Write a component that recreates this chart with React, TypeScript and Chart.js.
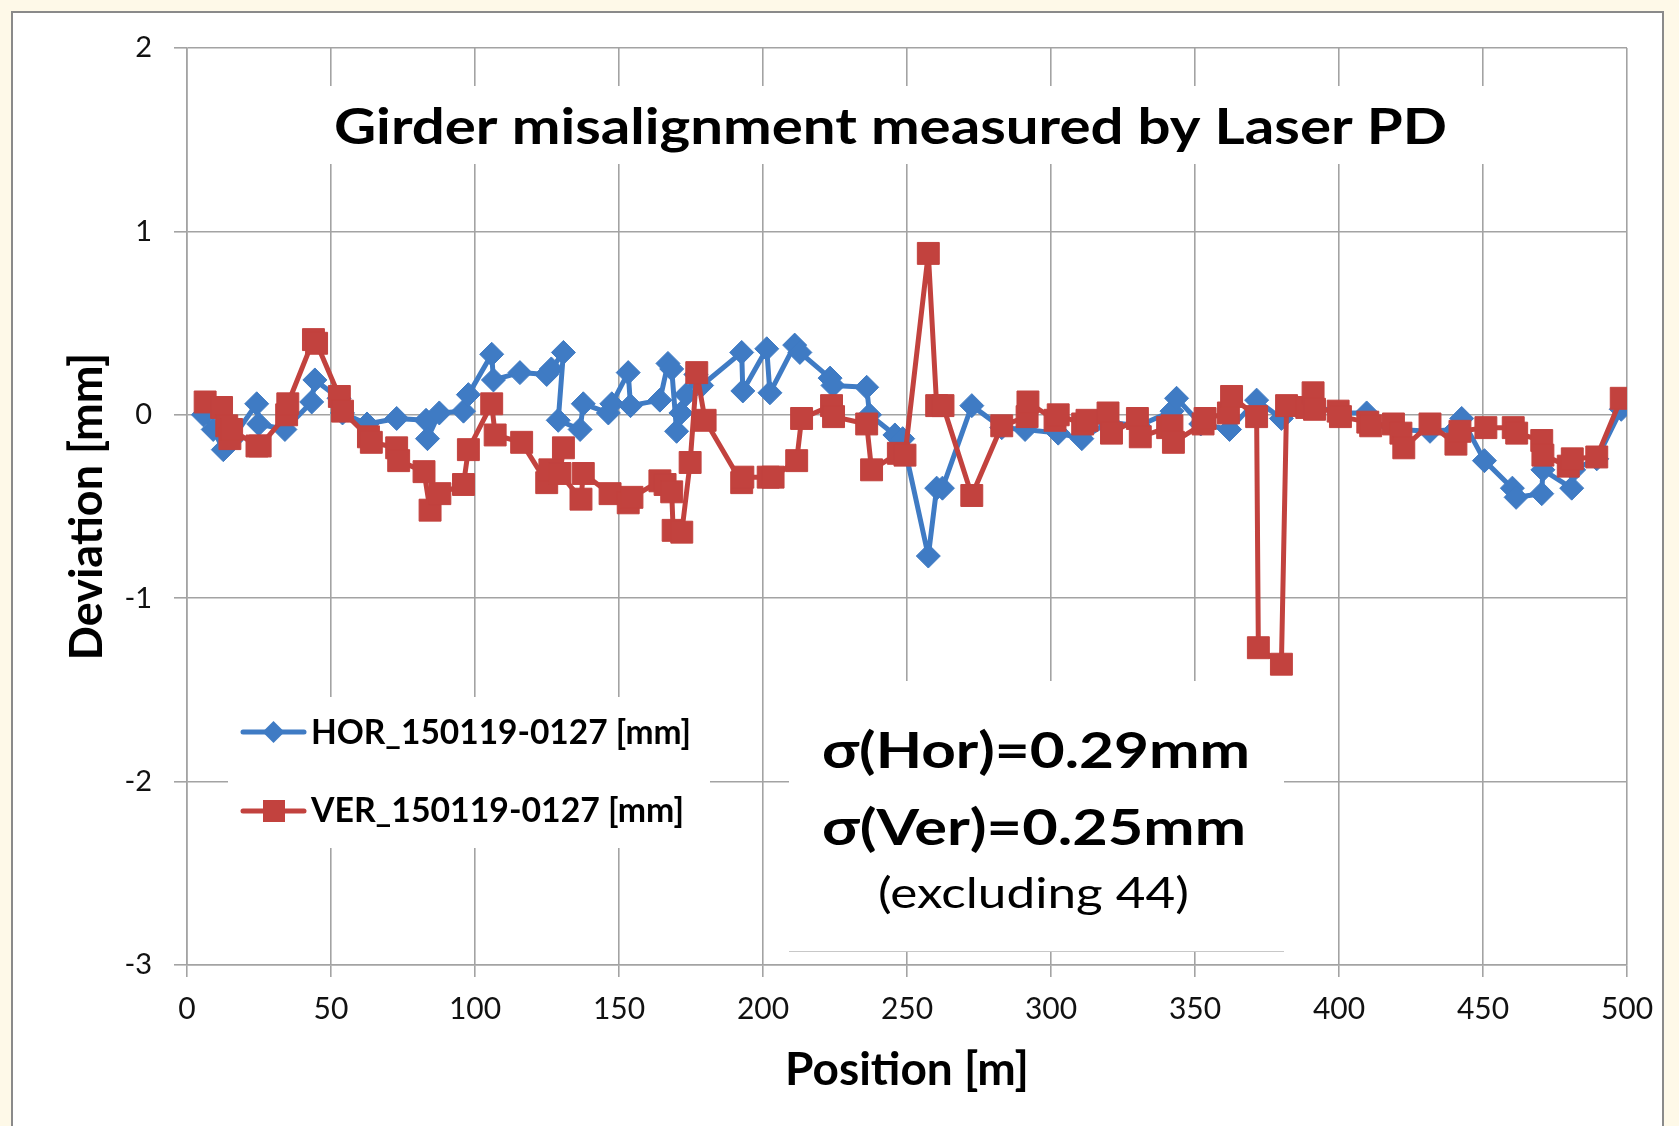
import React, { useEffect, useRef } from "react";
import { Chart, registerables } from "chart.js";

Chart.register(...registerables);

// ---------- data ----------
const HOR_POS = [5.7, 9.1, 12.6, 15.3, 24.2, 24.9, 34.0, 43.3, 44.4, 52.8, 54.0, 62.5, 72.8, 83.0, 83.5, 87.6, 96.0, 97.7, 105.8, 106.4, 115.6, 124.9, 126.5, 130.7, 128.9, 136.5, 137.6, 146.3, 147.5, 153.2, 154.0, 164.2, 167.0, 168.3, 170.0, 171.5, 173.3, 176.7, 178.7, 192.6, 193.0, 201.3, 202.4, 211.0, 212.8, 223.3, 224.3, 236.0, 237.0, 245.8, 248.5, 257.4, 260.3, 262.3, 272.5, 282.9, 291.0, 302.5, 310.7, 320.0, 330.5, 342.0, 343.6, 352.0, 362.0, 371.4, 380.0, 390.8, 400.0, 409.6, 411.0, 420.4, 431.6, 440.5, 442.6, 450.5, 460.2, 461.5, 470.4, 470.8, 480.8, 481.5, 489.5, 498.0];
const HOR_DEV = [0.00, -0.08, -0.19, -0.14, 0.06, -0.05, -0.08, 0.07, 0.19, 0.09, 0.01, -0.05, -0.02, -0.03, -0.13, 0.01, 0.02, 0.11, 0.33, 0.19, 0.23, 0.22, 0.25, 0.34, -0.03, -0.08, 0.06, 0.01, 0.06, 0.23, 0.05, 0.08, 0.28, 0.25, -0.09, 0.01, 0.11, 0.22, 0.16, 0.34, 0.13, 0.36, 0.12, 0.38, 0.34, 0.20, 0.16, 0.15, 0.00, -0.11, -0.13, -0.77, -0.40, -0.40, 0.05, -0.07, -0.08, -0.10, -0.13, -0.04, -0.06, 0.02, 0.09, -0.05, -0.08, 0.08, -0.02, 0.05, 0.01, 0.01, -0.05, -0.08, -0.09, -0.08, -0.02, -0.25, -0.40, -0.45, -0.43, -0.30, -0.40, -0.30, -0.24, 0.03];

const VER_POS = [6.3, 12.0, 13.8, 14.9, 15.5, 24.3, 25.4, 34.6, 35.0, 43.9, 45.0, 52.9, 54.0, 63.0, 64.0, 72.8, 73.5, 82.3, 84.4, 87.8, 96.0, 97.7, 105.8, 107.0, 116.2, 124.9, 126.0, 130.7, 129.5, 136.8, 137.6, 146.9, 153.2, 154.5, 164.2, 166.0, 168.3, 168.8, 171.8, 174.7, 177.0, 179.9, 192.6, 193.0, 201.8, 203.5, 211.7, 213.4, 223.8, 224.5, 236.0, 237.7, 247.0, 249.3, 257.4, 260.3, 262.5, 272.5, 282.9, 291.7, 292.0, 301.4, 302.5, 311.0, 312.5, 319.8, 321.0, 330.0, 331.0, 340.5, 342.0, 342.5, 352.8, 353.5, 361.6, 362.7, 371.4, 372.0, 380.0, 381.8, 388.8, 391.0, 391.5, 399.7, 400.5, 410.0, 411.0, 418.9, 421.5, 422.5, 431.6, 440.6, 442.0, 451.0, 460.5, 461.7, 470.4, 470.8, 479.6, 481.0, 489.5, 498.0];
const VER_DEV = [0.07, 0.04, -0.06, -0.13, -0.08, -0.17, -0.17, 0.00, 0.06, 0.41, 0.39, 0.10, 0.02, -0.12, -0.15, -0.18, -0.25, -0.31, -0.52, -0.43, -0.38, -0.19, 0.06, -0.11, -0.15, -0.37, -0.30, -0.18, -0.32, -0.46, -0.32, -0.43, -0.48, -0.45, -0.36, -0.38, -0.42, -0.63, -0.64, -0.26, 0.23, -0.03, -0.37, -0.34, -0.34, -0.34, -0.25, -0.02, 0.05, -0.01, -0.05, -0.30, -0.21, -0.22, 0.88, 0.05, 0.05, -0.44, -0.06, -0.01, 0.07, -0.03, 0.00, -0.05, -0.03, 0.01, -0.10, -0.02, -0.12, -0.07, -0.06, -0.15, -0.05, -0.02, 0.01, 0.10, -0.01, -1.27, -1.36, 0.05, 0.04, 0.12, 0.03, 0.02, -0.01, -0.04, -0.06, -0.05, -0.10, -0.18, -0.05, -0.16, -0.09, -0.07, -0.07, -0.10, -0.14, -0.22, -0.28, -0.24, -0.23, 0.09];

const X_MIN = 0;
const X_MAX = 500;
const X_STEP = 50;
const Y_MIN = -3;
const Y_MAX = 2;
const Y_STEP = 1;

const TITLE = "Girder misalignment measured by Laser PD";
const X_TITLE = "Position [m]";
const Y_TITLE = "Deviation [mm]";
const HOR_LABEL = "HOR_150119-0127 [mm]";
const VER_LABEL = "VER_150119-0127 [mm]";
const STAT_LINES = ["\u03c3(Hor)=0.29mm", "\u03c3(Ver)=0.25mm", "(excluding 44)"];

// ---------- styles ----------
const W = 1679;
const H = 1126;
const CREAM = "#fef9e8";
const BLUE = "#3f7bc4";
const RED = "#c2423e";
const GRID = "#a3a3a3";
const FONT = "Lato, 'Open Sans', sans-serif";
const CAP = 0.7165;

function fitText(
  ctx: CanvasRenderingContext2D,
  text: string,
  weight: string,
  capH: number,
  left: number,
  right: number,
  baseline: number,
) {
  const size = capH / CAP;
  ctx.save();
  ctx.font = `${weight} ${size}px ${FONT}`;
  ctx.textAlign = "left";
  ctx.textBaseline = "alphabetic";
  ctx.fillStyle = "#000";
  const w = ctx.measureText(text).width;
  const sx = (right - left) / w;
  ctx.translate(left, baseline);
  ctx.scale(sx, 1);
  ctx.fillText(text, 0, 0);
  ctx.restore();
}

const decorPlugin = {
  id: "decor",
  beforeDraw(chart: any) {
    const ctx = chart.ctx as CanvasRenderingContext2D;
    ctx.save();
    ctx.fillStyle = CREAM;
    ctx.fillRect(0, 0, W, H);
    ctx.fillStyle = "#ffffff";
    ctx.fillRect(12, 12, 1651, H);
    ctx.strokeStyle = "#8a8a8a";
    ctx.lineWidth = 2;
    ctx.strokeRect(12, 12, 1651, H + 20);
    ctx.restore();
  },
  beforeDatasetsDraw(chart: any) {
    const ctx = chart.ctx as CanvasRenderingContext2D;
    ctx.save();
    ctx.fillStyle = "#ffffff";
    // title box
    ctx.fillRect(315, 86, 1180, 78);
    // legend box
    ctx.fillRect(228, 697, 482, 151);
    // stats box
    ctx.fillRect(789, 681, 495, 270);
    ctx.strokeStyle = "#c8c8c8";
    ctx.lineWidth = 1;
    ctx.beginPath();
    ctx.moveTo(789, 951.5);
    ctx.lineTo(1284, 951.5);
    ctx.stroke();
    ctx.restore();
  },
  afterDraw(chart: any) {
    const ctx = chart.ctx as CanvasRenderingContext2D;
    // chart title
    fitText(ctx, TITLE, "bold", 36, 334, 1447, 144);

    // legend
    ctx.save();
    ctx.lineCap = "round";
    ctx.lineWidth = 5;
    ctx.strokeStyle = BLUE;
    ctx.beginPath();
    ctx.moveTo(243, 732);
    ctx.lineTo(304, 732);
    ctx.stroke();
    ctx.fillStyle = BLUE;
    ctx.beginPath();
    ctx.moveTo(273.5 - 11, 732);
    ctx.lineTo(273.5, 732 - 11);
    ctx.lineTo(273.5 + 11, 732);
    ctx.lineTo(273.5, 732 + 11);
    ctx.closePath();
    ctx.fill();

    ctx.strokeStyle = RED;
    ctx.beginPath();
    ctx.moveTo(243, 811);
    ctx.lineTo(304, 811);
    ctx.stroke();
    ctx.fillStyle = RED;
    ctx.fillRect(274 - 11, 811 - 11, 22, 22);
    ctx.restore();

    fitText(ctx, HOR_LABEL, "bold", 24, 311, 691, 744);
    fitText(ctx, VER_LABEL, "bold", 24, 311, 684, 822);

    // statistics text
    fitText(ctx, STAT_LINES[0], "bold", 36, 822, 1250, 768);
    fitText(ctx, STAT_LINES[1], "bold", 36, 822, 1246, 845);
    fitText(ctx, STAT_LINES[2], "normal", 30, 878, 1189, 908);
  },
};

export default function App() {
  const ref = useRef<HTMLCanvasElement | null>(null);

  useEffect(() => {
    const canvas = ref.current;
    if (!canvas) return;
    const horData = HOR_POS.map((x, i) => ({ x, y: HOR_DEV[i] }));
    const verData = VER_POS.map((x, i) => ({ x, y: VER_DEV[i] }));

    const chart = new Chart(canvas, {
      type: "scatter",
      data: {
        datasets: [
          {
            label: VER_LABEL,
            data: verData,
            showLine: true,
            borderColor: RED,
            backgroundColor: RED,
            borderWidth: 5,
            borderJoinStyle: "round",
            borderCapStyle: "round",
            pointStyle: "rect",
            pointRadius: 15.5,
            pointBorderWidth: 1,
            pointBorderColor: RED,
            pointBackgroundColor: RED,
            order: 0,
          },
          {
            label: HOR_LABEL,
            data: horData,
            showLine: true,
            borderColor: BLUE,
            backgroundColor: BLUE,
            borderWidth: 5,
            borderJoinStyle: "round",
            borderCapStyle: "round",
            pointStyle: "rectRot",
            pointRadius: 12,
            pointBorderWidth: 1,
            pointBorderColor: BLUE,
            pointBackgroundColor: BLUE,
            order: 1,
          },
        ],
      },
      options: {
        responsive: false,
        maintainAspectRatio: false,
        animation: false,
        devicePixelRatio: 1,
        layout: { padding: { left: 0, top: 48, right: 52, bottom: 0 } },
        plugins: {
          legend: { display: false },
          tooltip: { enabled: false },
          title: { display: false },
        },
        scales: {
          x: {
            type: "linear",
            min: X_MIN,
            max: X_MAX,
            afterFit: (scale: any) => {
              scale.height = 161;
            },
            ticks: {
              stepSize: X_STEP,
              color: "#111",
              padding: 14,
              maxRotation: 0,
              font: { family: FONT, size: 30 },
            },
            grid: { color: GRID, lineWidth: 1.6, tickLength: 12, drawTicks: true },
            border: { color: GRID, width: 1.6 },
            title: {
              display: true,
              text: X_TITLE,
              color: "#000",
              font: { family: FONT, size: 46, weight: "bold" },
              padding: { top: 0, bottom: 28 },
            },
          },
          y: {
            type: "linear",
            min: Y_MIN,
            max: Y_MAX,
            afterFit: (scale: any) => {
              scale.width = 187;
            },
            ticks: {
              stepSize: Y_STEP,
              color: "#111",
              padding: 22,
              font: { family: FONT, size: 29 },
            },
            grid: { color: GRID, lineWidth: 1.6, tickLength: 13, drawTicks: true },
            border: { color: GRID, width: 1.6 },
            title: {
              display: true,
              text: Y_TITLE,
              color: "#000",
              font: { family: FONT, size: 45, weight: "bold" },
              padding: { top: 60, bottom: 0 },
            },
          },
        },
      },
      plugins: [decorPlugin],
    } as any);

    return () => chart.destroy();
  }, []);

  return (
    <div style={{ position: "fixed", left: 0, top: 0, width: W, height: H, background: CREAM }}>
      <canvas ref={ref} width={W} height={H} style={{ display: "block", width: W, height: H }} />
    </div>
  );
}
